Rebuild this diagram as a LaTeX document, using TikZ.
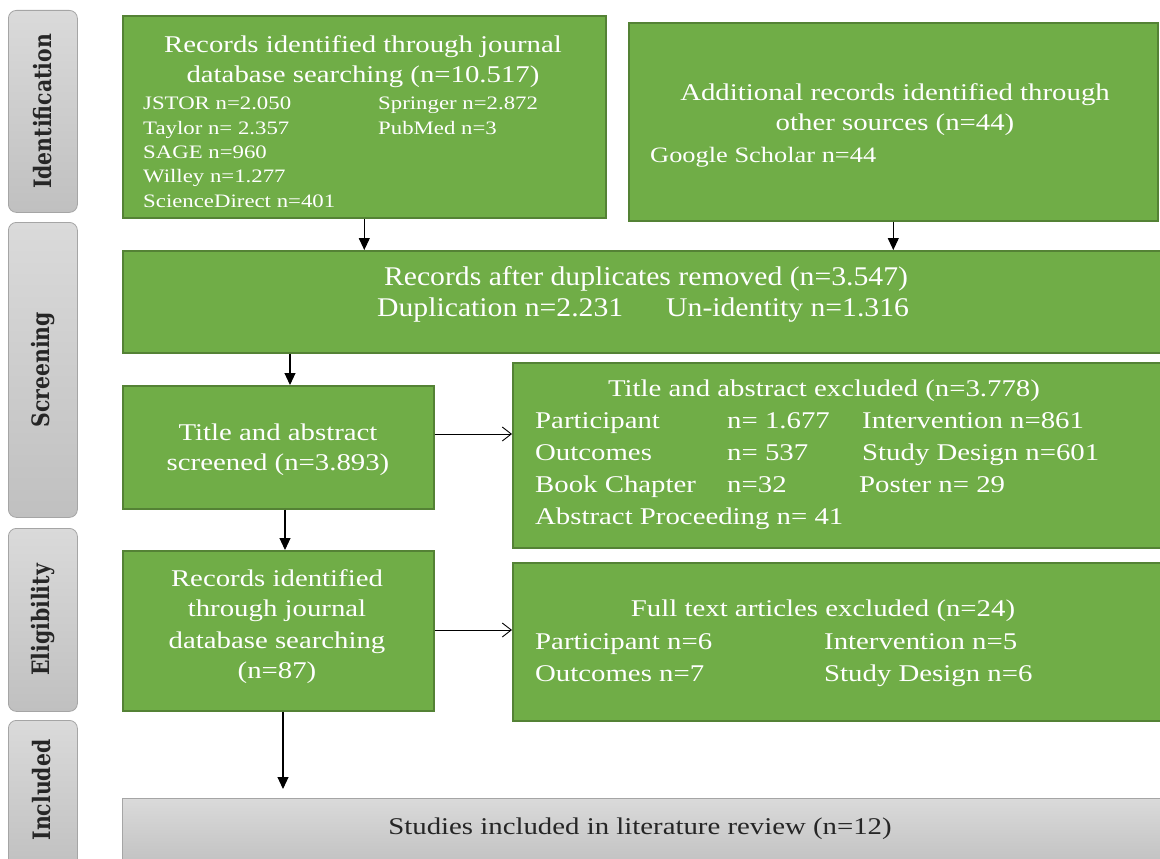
\documentclass[tikz,border=0pt]{standalone}
\usepackage{fontspec}
\setmainfont[FakeStretch=1.2]{Liberation Serif}
\newfontfamily\labfont[FakeStretch=0.85]{DejaVu Serif}
\newfontfamily\dupfont[FakeStretch=1.1]{Liberation Serif}
\usetikzlibrary{arrows.meta}
\definecolor{ggreen}{RGB}{112,173,71}
\definecolor{gborder}{RGB}{84,130,53}
\definecolor{lgrey}{RGB}{218,218,218}
\definecolor{dgrey}{RGB}{192,192,192}
\definecolor{lborder}{RGB}{165,165,165}
\definecolor{dtext}{RGB}{38,38,38}
\tikzset{
  gbox/.style={draw=gborder, fill=ggreen, line width=1.6pt, inner sep=0pt, anchor=north west},
  sidebox/.style={draw=lborder, top color=lgrey, bottom color=dgrey, line width=0.8pt, rounded corners=8pt, inner sep=0pt, anchor=north west, minimum width=69pt},
  sidetxt/.style={rotate=90, font=\labfont\bfseries\fontsize{24}{26}\selectfont, text=black!85},
  big/.style={text=white, font=\fontsize{24}{29}\selectfont, inner sep=0pt, anchor=base},
  bigl/.style={big, anchor=base west},
  dup/.style={text=white, font=\dupfont\fontsize{27}{31}\selectfont, inner sep=0pt},
  small/.style={text=white, font=\fontsize{19}{23}\selectfont, inner sep=0pt, anchor=base west},
  arrv/.style={-{Triangle[length=12pt,width=11pt]}, line width=1.1pt, black},
  arrh/.style={-{Straight Barb[length=9pt,width=14pt]}, line width=0.9pt, black},
}
\begin{document}
\begin{tikzpicture}[x=1pt,y=-1pt]
\useasboundingbox (0,0) rectangle (1160,859);
% side labels
\node[sidebox, minimum height=202pt] (s1) at (8,10) {};
\node[sidetxt] (s1t) at (s1.center) {Identification};
\node[sidebox, minimum height=295pt] (s2) at (8,222) {};
\node[sidetxt] (s2t) at (s2.center) {Screening};
\node[sidebox, minimum height=183pt] (s3) at (8,528) {};
\node[sidetxt] (s3t) at (s3.center) {Eligibility};
\node[sidebox, minimum height=150pt] (s4) at (8,720) {};
\node[sidetxt] (s4t) at (42,790) {Included};
% boxes
\node[gbox, minimum width=483pt, minimum height=202pt] (b1) at (122,15) {};
\node[gbox, minimum width=529pt, minimum height=198pt] (b2) at (628,22) {};
\node[gbox, minimum width=1038pt, minimum height=102pt] (b3) at (122,250) {};
\node[gbox, minimum width=311pt, minimum height=123pt] (b4) at (122,385) {};
\node[gbox, minimum width=648pt, minimum height=185pt] (b5) at (512,362) {};
\node[gbox, minimum width=311pt, minimum height=160pt] (b6) at (122,550) {};
\node[gbox, minimum width=648pt, minimum height=158pt] (b7) at (512,562) {};
\node[draw=lborder, top color=lgrey, bottom color=dgrey, line width=0.8pt, inner sep=0pt, anchor=north west, minimum width=1038pt, minimum height=70pt] (b8) at (122,798) {};
% box1 text
\node[big] (t1a) at (363,53) {Records identified through journal};
\node[big] (t1b) at (363,83) {database searching (n=10.517)};
\node[small] (t1c) at (143,110) {JSTOR n=2.050};
\node[small] (t1d) at (143,134) {Taylor n= 2.357};
\node[small] (t1e) at (143,158.5) {SAGE n=960};
\node[small] (t1f) at (143,182.5) {Willey n=1.277};
\node[small] (t1g) at (143,207) {ScienceDirect n=401};
\node[small] (t1h) at (378,110) {Springer n=2.872};
\node[small] (t1i) at (378,134) {PubMed n=3};
% box2 text
\node[big] (t2a) at (895,100) {Additional records identified through};
\node[big] (t2b) at (895,131) {other sources (n=44)};
\node[bigl, font=\fontsize{22}{26}\selectfont] (t2c) at (650,162) {Google Scholar n=44};
% box3 text
\node[dup, anchor=base] (t3a) at (646,285) {Records after duplicates removed (n=3.547)};
\node[dup, anchor=base west] (t3b) at (377,316) {Duplication n=2.231};
\node[dup, anchor=base west] (t3c) at (666,316) {Un-identity n=1.316};
% box4
\node[big] (t4a) at (278,440) {Title and abstract};
\node[big] (t4b) at (278,470) {screened (n=3.893)};
% box5
\node[big] (t5a) at (824,396) {Title and abstract excluded (n=3.778)};
\node[bigl] (t5b) at (535,428) {Participant};
\node[bigl] (t5c) at (727,428) {n= 1.677};
\node[bigl] (t5d) at (862,428) {Intervention n=861};
\node[bigl] (t5e) at (535,460) {Outcomes};
\node[bigl] (t5f) at (727,460) {n= 537};
\node[bigl] (t5g) at (862,460) {Study Design n=601};
\node[bigl] (t5h) at (535,492) {Book Chapter};
\node[bigl] (t5i) at (727,492) {n=32};
\node[bigl] (t5j) at (859,492) {Poster n= 29};
\node[bigl] (t5k) at (535,524) {Abstract Proceeding n= 41};
% box6
\node[big] (t6a) at (277,586) {Records identified};
\node[big] (t6b) at (277,616) {through journal};
\node[big] (t6c) at (277,648) {database searching};
\node[big] (t6d) at (277,678) {(n=87)};
% box7
\node[big] (t7a) at (823,616) {Full text articles excluded (n=24)};
\node[bigl] (t7b) at (535,649) {Participant n=6};
\node[bigl] (t7c) at (824,649) {Intervention n=5};
\node[bigl] (t7d) at (535,681) {Outcomes n=7};
\node[bigl] (t7e) at (824,681) {Study Design n=6};
% box8
\node[big, text=dtext, font=\fontsize{24}{28}\selectfont] (t8a) at (640,834) {Studies included in literature review (n=12)};
% connectors
\coordinate (x1) at (290,0);
\coordinate (x2) at (285,0);
\coordinate (x3) at (283,0);
\coordinate (yA) at (0,434);
\coordinate (yB) at (0,630);
\draw[arrv] (b1.south) -- (b1.south |- b3.north);
\draw[arrv] (b2.south) -- (b2.south |- b3.north);
\draw[arrv] (b3.south -| x1) -- (b4.north -| x1);
\draw[arrv] (b4.south -| x2) -- (b6.north -| x2);
\draw[arrv] (b6.south -| x3) -- ([yshift=9pt]b8.north -| x3);
\draw[arrh] (b4.east |- yA) -- (b5.west |- yA);
\draw[arrh] (b6.east |- yB) -- (b7.west |- yB);
\end{tikzpicture}
\end{document}
